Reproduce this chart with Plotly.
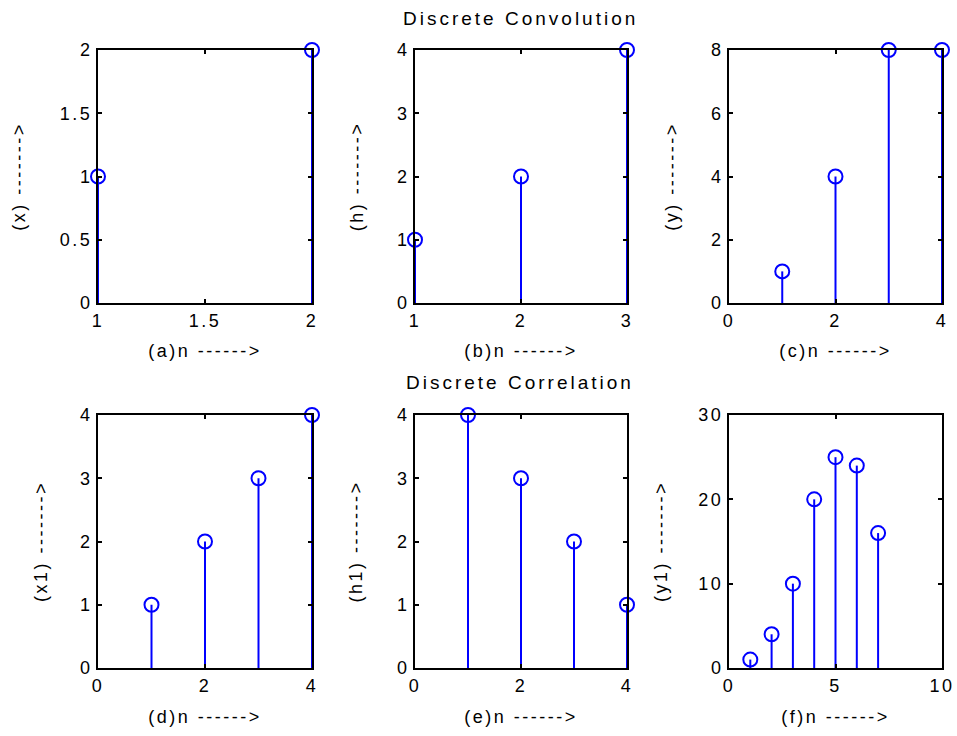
import plotly.graph_objects as go

# ---- data ----
n_x = [1, 2]
x_vals = [1, 2]
n_h = [1, 2, 3]
h_vals = [1, 2, 4]
n_y = [1, 2, 3, 4]
y_vals = [1, 4, 8, 8]
n_x1 = [1, 2, 3, 4]
x1_vals = [1, 2, 3, 4]
n_h1 = [1, 2, 3, 4]
h1_vals = [4, 3, 2, 1]
n_y1 = [1, 2, 3, 4, 5, 6, 7]
y1_vals = [1, 4, 10, 20, 25, 24, 16]

x_titles = ["(a)n ------>", "(b)n ------>", "(c)n ------>",
            "(d)n ------>", "(e)n ------>", "(f)n ------>"]
y_titles = ["(x) ------->", "(h) ------->", "(y) ------->",
            "(x1) ------->", "(h1) ------->", "(y1) ------->"]
x_ranges = [[1, 2], [1, 3], [0, 4], [0, 4], [0, 4], [0, 10]]
y_ranges = [[0, 2], [0, 4], [0, 8], [0, 4], [0, 4], [0, 30]]
x_ticks = [[1, 1.5, 2], [1, 2, 3], [0, 2, 4], [0, 2, 4], [0, 2, 4], [0, 5, 10]]
y_ticks = [[0, 0.5, 1, 1.5, 2], [0, 1, 2, 3, 4], [0, 2, 4, 6, 8],
           [0, 1, 2, 3, 4], [0, 1, 2, 3, 4], [0, 10, 20, 30]]
titles = ["Discrete Convolution", "Discrete Correlation"]

series = [(n_x, x_vals), (n_h, h_vals), (n_y, y_vals),
          (n_x1, x1_vals), (n_h1, h1_vals), (n_y1, y1_vals)]

W, H = 957, 736
col_px = [(98, 312), (415, 627), (729, 942)]
row_px = [(50, 303), (415, 668)]
ytitle_standoff = [37, 31, 30, 30, 32, 31]
xtitle_standoff = [15, 15, 15, 16, 16, 16]

fig = go.Figure()
FONT = "Liberation Sans, Arial, sans-serif"
BLUE = "#0000FF"

for i, (nn, vv) in enumerate(series):
    r, c = divmod(i, 3)
    ax = "" if i == 0 else str(i + 1)
    sx = []
    sy = []
    for a, b in zip(nn, vv):
        sx += [a, a, None]
        sy += [0, b, None]
    fig.add_trace(go.Scatter(x=sx, y=sy, mode="lines",
                             line=dict(color=BLUE, width=2),
                             xaxis="x" + ax, yaxis="y" + ax,
                             showlegend=False, hoverinfo="skip",
                             cliponaxis=False))
    fig.add_trace(go.Scatter(x=nn, y=vv, mode="markers",
                             marker=dict(symbol="circle-open", size=14,
                                         color=BLUE, line=dict(width=2)),
                             xaxis="x" + ax, yaxis="y" + ax,
                             showlegend=False, cliponaxis=False))
    x0, x1 = col_px[c]
    y0, y1 = row_px[r]
    common = dict(showline=True, linecolor="black", linewidth=2,
                  mirror="ticks", ticks="inside", ticklen=4, tickwidth=2,
                  tickcolor="black", showgrid=False, zeroline=False,
                  automargin=False,
                  tickfont=dict(family=FONT, size=18, color="black"))
    fig.update_layout(**{
        "xaxis" + ax: dict(domain=[x0 / W, x1 / W], range=x_ranges[i],
                           tickvals=x_ticks[i], anchor="y" + ax,
                           title=dict(text=x_titles[i], standoff=xtitle_standoff[i],
                                      font=dict(family=FONT, size=18, color="black")),
                           **common),
        "yaxis" + ax: dict(domain=[1 - y1 / H, 1 - y0 / H], range=y_ranges[i],
                           tickvals=y_ticks[i], anchor="x" + ax,
                           title=dict(text=y_titles[i], standoff=ytitle_standoff[i],
                                      font=dict(family=FONT, size=18, color="black")),
                           **common),
    })

fig.add_annotation(text=titles[0], x=520 / W, y=1 - 18 / H, xref="paper", yref="paper",
                   xanchor="center", yanchor="middle",
                   showarrow=False, font=dict(family=FONT, size=19, color="black"))
fig.add_annotation(text=titles[1], x=520 / W, y=1 - 383 / H, xref="paper", yref="paper",
                   xanchor="center", yanchor="middle",
                   showarrow=False, font=dict(family=FONT, size=19, color="black"))

fig.update_layout(width=W, height=H, margin=dict(l=0, r=0, t=0, b=0),
                  paper_bgcolor="white", plot_bgcolor="white")

post = """
document.body.style.margin = '0';
var st = document.createElement('style');
st.textContent = '.main-svg text { letter-spacing: 2.5px; } .main-svg .annotation text { letter-spacing: 3px; }';
document.head.appendChild(st);
"""
fig.write_html("out.html", post_script=post, config={"displayModeBar": False})
